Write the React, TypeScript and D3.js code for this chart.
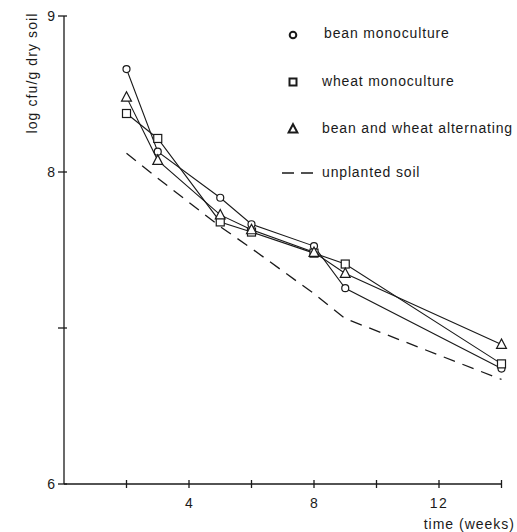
import React from "react";
import * as d3 from "d3";

const weeks = [2, 3, 5, 6, 8, 9, 14];
const beanMono = [8.66, 8.13, 7.835, 7.665, 7.525, 7.255, 6.74];
const wheatMono = [8.375, 8.215, 7.68, 7.615, 7.48, 7.41, 6.77];
const alternating = [8.48, 8.075, 7.725, 7.63, 7.485, 7.35, 6.895];
const unplantedWeeks = [2, 3, 5, 6, 8, 9, 14];
const unplanted = [8.12, 7.96, 7.65, 7.51, 7.22, 7.06, 6.67];
const xTicks = [2, 4, 6, 8, 10, 12, 14];
const xTickLabels = [4, 8, 12];
const yTicks = [6, 7, 8, 9];
const yTickLabels = [6, 8, 9];
const legendLabels = ["bean monoculture", "wheat monoculture", "bean and wheat alternating", "unplanted soil"];

const W = 517;
const H = 532;
const FONT = "'Liberation Sans', Arial, Helvetica, sans-serif";
const INK = "#1a1a1a";
const LS = 0.85;

export default function App() {
  const x = d3.scaleLinear().domain([0, 14]).range([64, 501.5]);
  const y = d3.scaleLinear().domain([6, 9]).range([484, 16]);
  const line = d3
    .line<[number, number]>()
    .x((d) => x(d[0]))
    .y((d) => y(d[1]));

  const pts = (vals: number[], ws: number[] = weeks) => ws.map((w, i) => [w, vals[i]] as [number, number]);

  const tri = (cx: number, cy: number, s: number) =>
    `M${cx},${cy - s * 0.6}L${cx + s * 0.55},${cy + s * 0.45}L${cx - s * 0.55},${cy + s * 0.45}Z`;

  return (
    <svg width={W} height={H} style={{ position: "absolute", left: 0, top: 0, background: "#fff" }}>
      <rect width={W} height={H} fill="#fff" />
      {/* axes */}
      <line x1={x(0)} y1={y(9)} x2={x(0)} y2={y(6)} stroke={INK} strokeWidth={1.3} />
      <line x1={x(0)} y1={y(6)} x2={x(14)} y2={y(6)} stroke={INK} strokeWidth={1.3} />
      {yTicks.map((t) => (
        <line key={"yt" + t} x1={x(0) - 6} x2={x(0) + 3} y1={y(t)} y2={y(t)} stroke={INK} strokeWidth={1.3} />
      ))}
      {yTickLabels.map((t) => (
        <text key={"yl" + t} x={x(0) - 9} y={y(t) + 5} textAnchor="end" fontFamily={FONT} fontSize={14} fill={INK}>
          {t}
        </text>
      ))}
      {xTicks.map((t) => (
        <line key={"xt" + t} x1={x(t)} x2={x(t)} y1={y(6) - 4} y2={y(6) + 4} stroke={INK} strokeWidth={1.3} />
      ))}
      {xTickLabels.map((t) => (
        <text key={"xl" + t} x={x(t)} y={y(6) + 24} textAnchor="middle" fontFamily={FONT} fontSize={14} fill={INK} letterSpacing={t > 9 ? 1.5 : 0}>
          {t}
        </text>
      ))}
      <text x={515} y={529} textAnchor="end" fontFamily={FONT} fontSize={14} fill={INK} letterSpacing={1}>
        time (weeks)
      </text>
      <text
        transform={`translate(37,73) rotate(-90)`}
        textAnchor="middle"
        fontFamily={FONT}
        fontSize={14}
        fill={INK}
        letterSpacing={1.1}
      >
        log cfu/g dry soil
      </text>

      {/* unplanted dashed */}
      <path d={line(pts(unplanted, unplantedWeeks)) || ""} fill="none" stroke={INK} strokeWidth={1.3} strokeDasharray="12,8" />

      {/* series lines */}
      {[beanMono, wheatMono, alternating].map((s, i) => (
        <path key={"l" + i} d={line(pts(s)) || ""} fill="none" stroke={INK} strokeWidth={1.1} />
      ))}

      {/* markers */}
      {pts(beanMono).map((d, i) => (
        <circle key={"c" + i} cx={x(d[0])} cy={y(d[1])} r={3.5} fill="#fff" stroke={INK} strokeWidth={1.2} />
      ))}
      {pts(wheatMono).map((d, i) => (
        <rect key={"s" + i} x={x(d[0]) - 4} y={y(d[1]) - 4} width={8} height={8} fill="#fff" stroke={INK} strokeWidth={1.2} />
      ))}
      {pts(alternating).map((d, i) => (
        <path key={"t" + i} d={tri(x(d[0]), y(d[1]), 9)} fill="#fff" stroke={INK} strokeWidth={1.2} />
      ))}

      {/* legend */}
      <circle cx={293} cy={35} r={3.3} fill="#fff" stroke={INK} strokeWidth={2} />
      <text x={324} y={38} fontFamily={FONT} fontSize={14} fill={INK} letterSpacing={LS}>{legendLabels[0]}</text>
      <rect x={289.5} y={78.5} width={7} height={7} fill="#fff" stroke={INK} strokeWidth={2} />
      <text x={322} y={86} fontFamily={FONT} fontSize={14} fill={INK} letterSpacing={LS}>{legendLabels[1]}</text>
      <path d={tri(293, 129, 8)} fill="#fff" stroke={INK} strokeWidth={2} />
      <text x={322} y={133} fontFamily={FONT} fontSize={14} fill={INK} letterSpacing={LS}>{legendLabels[2]}</text>
      <line x1={282} x2={318} y1={173} y2={173} stroke={INK} strokeWidth={1.3} strokeDasharray="12,7" />
      <text x={322} y={177} fontFamily={FONT} fontSize={14} fill={INK} letterSpacing={LS}>{legendLabels[3]}</text>
    </svg>
  );
}
